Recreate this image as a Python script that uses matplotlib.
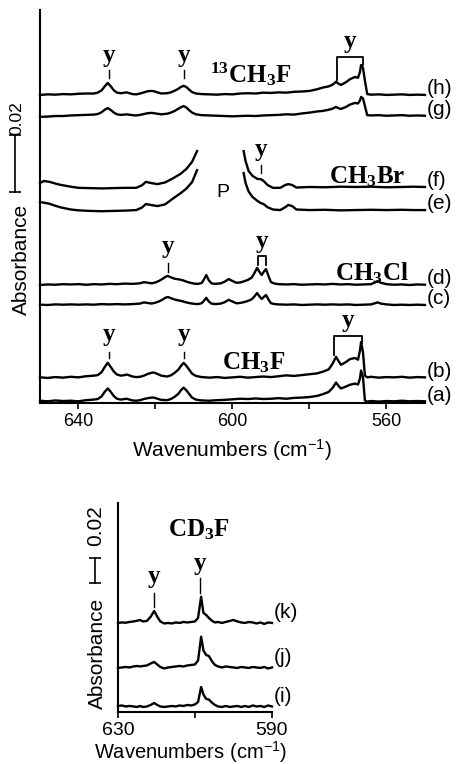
import numpy as np
import matplotlib.pyplot as plt
from matplotlib import transforms

plt.rcParams['font.family'] = ['Liberation Sans', 'DejaVu Sans']
plt.rcParams['mathtext.fontset'] = 'custom'
plt.rcParams['mathtext.rm'] = 'Liberation Sans'
plt.rcParams['mathtext.it'] = 'Liberation Sans:italic'
plt.rcParams['mathtext.bf'] = 'Liberation Serif:bold'

# absorbance values are in units of 0.001, measured above each trace's baseline

# CH3F / 13CH3F traces (a), (b), (g), (h)
wn_ch3f = [650, 648, 646, 644, 642, 640, 638, 636, 635, 634,
           633.2, 632.4, 631.6, 630.8, 630, 629, 628, 627.5, 627, 626,
           625, 624, 623, 622, 621, 620.4, 619.5, 618.5, 617, 616,
           615, 614, 613.5, 612.7, 612, 611.2, 610.5, 609.5, 608, 606,
           604, 602, 600, 598, 596, 594, 592, 590, 588, 586,
           584, 582, 580, 578, 576.5, 575, 574, 573.1, 572.4, 571.8,
           570.5, 569.5, 568.2, 567.4, 566.9, 566.6, 566.1, 565.6, 565, 564,
           562, 560, 558, 556, 554, 552, 550]
abs_a = [0.3, 0.1, 0.4, 0.2, 0.3, 0.1, 0.5, 0.7, 0.9, 1.8,
         3.4, 4.6, 3.4, 1.9, 1.0, 0.7, 0.9, 1.0, 0.8, 0.4,
         0.3, 0.5, 0.9, 1.2, 1.4, 1.4, 1.0, 0.6, 0.5, 0.9,
         1.7, 2.8, 3.8, 4.9, 4.0, 2.6, 1.4, 0.7, 0.4, 0.3,
         0.5, 0.6, 0.8, 1.0, 0.9, 1.1, 0.9, 1.0, 1.2, 1.0,
         1.3, 1.4, 1.6, 2.0, 2.6, 3.4, 4.8, 6.7, 5.4, 4.6,
         5.3, 5.9, 6.3, 6.0, 8.0, 10.9, 8.5, 0.4, 0.0, 0.2,
         0.0, 0.2, 0.1, 0.3, 0.1, 0.2, 0.1]
abs_b = [0.2, 0.0, 0.3, 0.1, 0.4, 0.2, 0.6, 0.8, 1.0, 2.0,
         3.8, 5.3, 3.8, 2.2, 1.2, 0.8, 1.0, 1.2, 1.0, 0.5,
         0.3, 0.4, 0.8, 1.4, 1.8, 1.9, 1.4, 0.8, 0.5, 0.9,
         1.8, 3.0, 4.0, 5.3, 4.3, 2.8, 1.5, 0.7, 0.3, 0.1,
         0.3, 0.0, 0.2, 0.4, 0.1, 0.3, 0.5, 0.3, 0.6, 0.9,
         0.7, 1.0, 1.3, 1.6, 2.2, 3.0, 5.0, 7.4, 5.8, 4.6,
         5.6, 6.6, 7.0, 6.4, 9.5, 12.6, 9.0, 0.8, 0.2, 0.4,
         0.1, 0.3, 0.2, 0.4, 0.1, 0.3, 0.2]
abs_g = [-0.3, -0.2, 0.0, 0.0, 0.2, 0.3, 0.4, 0.5, 0.7, 1.3,
         2.2, 2.8, 2.1, 1.2, 0.6, 0.4, 0.5, 0.6, 0.5, 0.3,
         0.2, 0.4, 0.7, 1.0, 1.1, 1.0, 0.8, 0.6, 0.8, 1.2,
         1.8, 2.6, 3.0, 3.5, 3.0, 2.0, 1.2, 0.6, 0.3, 0.2,
         0.1, 0.0, -0.1, 0.0, 0.1, 0.0, 0.2, 0.3, 0.4, 0.6,
         0.5, 0.9, 1.2, 1.6, 1.8, 2.2, 2.6, 3.2, 2.7, 2.5,
         3.2, 4.0, 4.6, 4.4, 5.4, 6.7, 6.2, 3.5, 0.3, 0.2,
         0.3, 0.1, 0.2, 0.3, 0.1, 0.2, 0.1]
abs_h = [0.0, 0.2, 0.1, 0.3, 0.2, 0.4, 0.5, 0.5, 0.8, 1.6,
         3.0, 4.2, 3.0, 1.6, 0.8, 0.6, 0.8, 0.9, 0.7, 0.3,
         0.2, 0.5, 0.9, 1.3, 1.4, 1.3, 0.9, 0.5, 0.6, 0.9,
         1.5, 2.2, 2.7, 3.2, 2.8, 1.8, 1.0, 0.5, 0.3, 0.2,
         0.1, 0.3, 0.2, 0.5, 0.6, 0.5, 0.8, 0.7, 0.9, 0.8,
         1.1, 1.2, 1.4, 2.0, 2.6, 3.0, 3.6, 4.6, 3.9, 3.5,
         4.5, 5.5, 6.3, 6.0, 8.0, 10.5, 9.5, 5.0, 0.3, 0.1,
         0.2, 0.0, 0.1, 0.2, 0.0, 0.1, 0.0]

# CH3Cl traces (c), (d)
wn_ch3cl = [650, 648, 646, 644, 642, 640, 638, 636, 634, 632,
            630, 628, 626, 624, 623, 622, 621, 620, 619, 618,
            617.5, 616.8, 616, 615, 614, 613, 612, 611, 610, 609,
            608, 607.4, 606.8, 606.2, 605.5, 604.5, 603, 602, 601, 600,
            599, 598, 597, 596, 595, 594.3, 593.6, 593, 592.4, 591.8,
            591.3, 590.6, 590, 589, 588, 586, 584, 582, 580, 578,
            576, 574, 572, 570, 568, 566, 564, 563, 562.3, 561.5,
            560, 558, 556, 554, 552, 550]
abs_c = [0.1, 0.0, 0.2, 0.1, 0.2, 0.1, 0.2, 0.1, 0.3, 0.2,
         0.3, 0.2, 0.3, 0.5, 0.9, 0.7, 0.5, 0.8, 1.3, 2.0,
         2.5, 2.8, 2.4, 1.9, 1.6, 1.3, 0.9, 0.6, 0.4, 0.3,
         0.6, 1.5, 2.5, 1.3, 0.5, 0.3, 0.5, 1.0, 1.8, 1.2,
         0.6, 0.7, 1.0, 1.4, 2.0, 3.0, 4.2, 3.0, 2.1, 2.9,
         3.5, 1.8, 0.6, 0.3, 0.2, 0.1, 0.2, 0.0, 0.1, 0.2,
         0.1, 0.2, 0.1, 0.2, 0.0, 0.1, 0.2, 0.6, 0.9, 0.5,
         0.2, 0.0, 0.1, 0.0, 0.1, 0.0]
abs_d = [0.0, 0.2, 0.1, 0.3, 0.2, 0.3, 0.1, 0.3, 0.2, 0.4,
         0.3, 0.5, 0.4, 0.6, 1.0, 0.8, 0.6, 0.9, 1.5, 2.3,
         2.8, 3.2, 2.7, 2.2, 2.0, 1.7, 1.2, 0.8, 0.5, 0.4,
         0.7, 2.0, 3.5, 1.8, 0.6, 0.4, 0.6, 1.2, 2.1, 1.4,
         0.8, 0.9, 1.3, 1.8, 2.6, 4.2, 6.0, 4.6, 3.5, 4.8,
         5.6, 3.0, 1.0, 0.5, 0.3, 0.2, 0.3, 0.1, 0.2, 0.3,
         0.2, 0.4, 0.2, 0.3, 0.1, 0.2, 0.3, 0.9, 1.4, 0.8,
         0.3, 0.1, 0.2, 0.0, 0.2, 0.1]

# CH3Br traces (e), (f); the gap is the region blacked out by P
wn_ch3br = [650, 649, 647.5, 646, 644.5, 642, 640, 637, 634, 631,
            628, 625, 623.5, 622.5, 621.2, 619.5, 617.5, 615.5, 613.5, 612,
            610.5, 609.2, 603, 597.1, 596.6, 595.8, 594.8, 593.5, 592.7, 591.9,
            590.9, 589.5, 587.6, 586.3, 585.5, 584.5, 583.4, 580, 576, 572,
            568, 564, 560, 556, 553, 550]
abs_e = [2.8, 2.6, 2.2, 1.5, 0.9, 0.2, -0.1, -0.3, -0.4, -0.3,
         -0.2, 0.0, 0.9, 2.1, 1.8, 1.4, 2.0, 4.0, 5.9, 7.5,
         9.8, 14.0, np.nan, 13.0, 9.5, 6.5, 4.6, 3.2, 2.5, 2.1,
         1.0, 0.2, 0.0, 1.0, 1.8, 1.4, 0.2, 0.0, 0.1, -0.1,
         0.0, 0.1, 0.0, 0.1, 0.0, 0.0]
abs_f = [1.4, 2.1, 1.8, 1.2, 0.7, 0.1, -0.3, -0.4, -0.5, -0.4,
         -0.3, -0.3, 0.6, 1.8, 1.4, 1.0, 1.6, 3.0, 4.6, 6.3,
         8.8, 12.6, np.nan, 12.6, 9.1, 5.6, 3.9, 2.8, 2.8, 2.1,
         0.7, -0.3, -0.3, 0.7, 1.0, 0.7, -0.2, 0.0, -0.1, 0.1,
         0.0, 0.1, -0.1, 0.0, 0.1, 0.0]

# CD3F traces (i), (j), (k)
wn_cd3f = [630, 629, 628, 627, 626, 625, 624.3, 623.5, 622.5, 621.5,
           620.6, 619.8, 619, 618, 617, 616, 615, 614, 613, 612,
           611, 610, 609.2, 608.4, 607.8, 607.1, 606.4, 605.5, 604.8, 604,
           603, 602, 601, 600, 599, 598, 597, 596, 595, 594,
           593, 592, 591, 590]
abs_i = [0.8, 1.2, 0.4, 0.8, 0.4, 0.0, 0.8, 0.0, 0.4, 1.6,
         3.2, 1.6, 0.4, 0.0, 0.4, 0.8, 0.4, 1.2, 0.8, 1.6,
         1.2, 2.0, 4.0, 16.0, 10.0, 6.4, 6.0, 3.2, 1.6, 0.4,
         0.0, 0.8, 0.0, 0.4, 0.8, 0.0, 0.8, 0.0, 1.2, 0.4,
         0.8, 0.0, 1.2, 0.4]
abs_j = [0.0, 0.4, 0.8, 0.4, 1.2, 1.6, 1.2, 1.6, 2.0, 3.6,
         4.8, 2.8, 0.8, -0.4, 0.4, 0.8, 1.2, 1.6, 1.2, 2.0,
         2.4, 2.8, 6.0, 25.0, 14.0, 10.4, 9.6, 5.0, 2.4, 1.2,
         0.4, 1.2, 0.8, 0.4, 0.0, 0.8, 0.4, 0.0, 0.8, 0.4,
         0.0, 0.8, -0.4, 0.4]
abs_k = [0.0, 0.4, 0.2, 0.8, 1.2, 1.8, 2.4, 1.2, 1.6, 5.0,
         9.6, 5.0, 1.2, -0.4, 0.0, -0.4, 0.4, 0.0, 0.8, 0.4,
         0.8, 1.2, 4.0, 21.0, 8.0, 6.4, 4.0, 1.6, 0.4, 0.8,
         0.0, 0.8, 1.6, 2.4, 1.2, 0.4, 0.0, 0.8, 0.4, -0.4,
         0.4, -0.8, 0.4, 0.0]

top_labels = ['(a)', '(b)', '(c)', '(d)', '(e)', '(f)', '(g)', '(h)']
top_offsets = [0.5, 8.8, 34.4, 41.4, 67.7, 75.8, 100.7, 108.1]
bottom_labels = ['(i)', '(j)', '(k)']
bottom_offsets = [4.0, 35.2, 71.2]

top_traces = [(wn_ch3f, abs_a), (wn_ch3f, abs_b), (wn_ch3cl, abs_c), (wn_ch3cl, abs_d),
              (wn_ch3br, abs_e), (wn_ch3br, abs_f), (wn_ch3f, abs_g), (wn_ch3f, abs_h)]
bottom_traces = [(wn_cd3f, abs_i), (wn_cd3f, abs_j), (wn_cd3f, abs_k)]

serif_bold = dict(fontfamily='Liberation Serif', fontweight='bold')


def y_mark(ax, x, y_text, y0, y1):
    ax.text(x, y_text, 'y', ha='center', va='baseline', fontsize=18, **serif_bold)
    ax.plot([x, x], [y0, y1], color='black', lw=1)


def bracket(ax, x0, x1, top, left_end, right_end, y_text):
    ax.plot([x0, x0, x1, x1], [left_end, top, top, right_end], color='black', lw=1.3)
    ax.text((x0 + x1) / 2, y_text, 'y', ha='center', va='baseline', fontsize=18, **serif_bold)


def style_axes(ax, size):
    for side in ['top', 'right']:
        ax.spines[side].set_visible(False)
    for side in ['left', 'bottom']:
        ax.spines[side].set_linewidth(1.5)
    ax.set_yticks([])
    ax.tick_params(axis='x', which='both', direction='out', length=4, width=1.2,
                   labelsize=size, pad=3)


def scale_bar(ax, x, y0, size, y_text):
    trans = transforms.blended_transform_factory(ax.transAxes, ax.transData)
    ax.plot([x, x], [y0, y0 + 20], color='black', lw=1.2, marker='_', ms=8, mew=1.2,
            transform=trans, clip_on=False)
    ax.text(x + 0.005, y_text, '0.02', rotation=90, ha='center', va='center',
            fontsize=size, transform=trans)


fig = plt.figure(figsize=(4.58, 7.64), dpi=100)
ax1 = fig.add_axes([0.0873, 0.4725, 0.8406, 0.5144])
ax2 = fig.add_axes([0.2576, 0.0681, 0.3362, 0.2736])

# upper panel
for (wn, vals), off, lab in zip(top_traces, top_offsets, top_labels):
    ax1.plot(wn, np.array(vals) + off, color='black', lw=1.7, clip_on=False)
    ax1.text(549.5, off + 2.2, lab, ha='left', va='center', fontsize=15)

ax1.set_xlim(650, 550)
ax1.set_ylim(0, 137.9)
ax1.set_xticks([640, 600, 560])
ax1.set_xticks([620, 580], minor=True)
style_axes(ax1, 13)
ax1.set_xlabel('Wavenumbers (cm$^{-1}$)', fontsize=15)
ax1.xaxis.set_label_coords(0.499, -0.087)
ax1.text(-0.047, 0.366, 'Absorbance', rotation=90, ha='center', va='center',
         fontsize=15, transform=ax1.transAxes)
scale_bar(ax1, -0.065, 74.1, 12.5, 100.0)

# marker labels, upper panel
for x in [632.2, 612.7]:
    y_mark(ax1, x, 119.5, 116.9, 114.1)
    y_mark(ax1, x, 21.6, 17.9, 15.8)
bracket(ax1, 572.8, 566.1, 121.4, 113.4, 118.6, 124.7)
bracket(ax1, 573.6, 566.3, 23.5, 16.8, 21.1, 26.8)
y_mark(ax1, 616.8, 52.8, 49.1, 46.0)
bracket(ax1, 593.3, 591.2, 51.6, 48.4, 48.4, 54.5)
y_mark(ax1, 592.7, 86.5, 83.5, 80.7)

ax1.text(595.3, 115.5, r'$\mathbf{^{13}CH_3F}$', ha='center', va='center', fontsize=18)
ax1.text(564.9, 79.3, r'$\mathbf{CH_3Br}$', ha='center', va='center', fontsize=18)
ax1.text(563.8, 45.6, r'$\mathbf{CH_3Cl}$', ha='center', va='center', fontsize=18)
ax1.text(594.6, 14.0, r'$\mathbf{CH_3F}$', ha='center', va='center', fontsize=18)
ax1.text(602.6, 73.7, 'P', ha='center', va='center', fontsize=14)

# lower panel
for (wn, vals), off, lab in zip(bottom_traces, bottom_offsets, bottom_labels):
    ax2.plot(wn, np.array(vals) + off, color='black', lw=1.7, clip_on=False)
    ax2.text(589.5, off + 8.4, lab, ha='left', va='center', fontsize=15)

ax2.set_xlim(630, 590)
ax2.set_ylim(0, 167.2)
ax2.set_xticks([630, 590])
ax2.set_xticks([610], minor=True)
style_axes(ax2, 14)
ax2.set_xlabel('Wavenumbers (cm$^{-1}$)', fontsize=14.5)
ax2.xaxis.set_label_coords(0.474, -0.128)
ax2.text(-0.136, 0.282, 'Absorbance', rotation=90, ha='center', va='center',
         fontsize=15, transform=ax2.transAxes)
scale_bar(ax2, -0.149, 103.2, 15, 148.8)

y_mark(ax2, 620.6, 103.5, 95.2, 84.0)
y_mark(ax2, 608.6, 113.9, 107.2, 95.2)
ax2.text(609.1, 145.6, r'$\mathbf{CD_3F}$', ha='center', va='center', fontsize=18)

fig.savefig('out.png', dpi=100)
